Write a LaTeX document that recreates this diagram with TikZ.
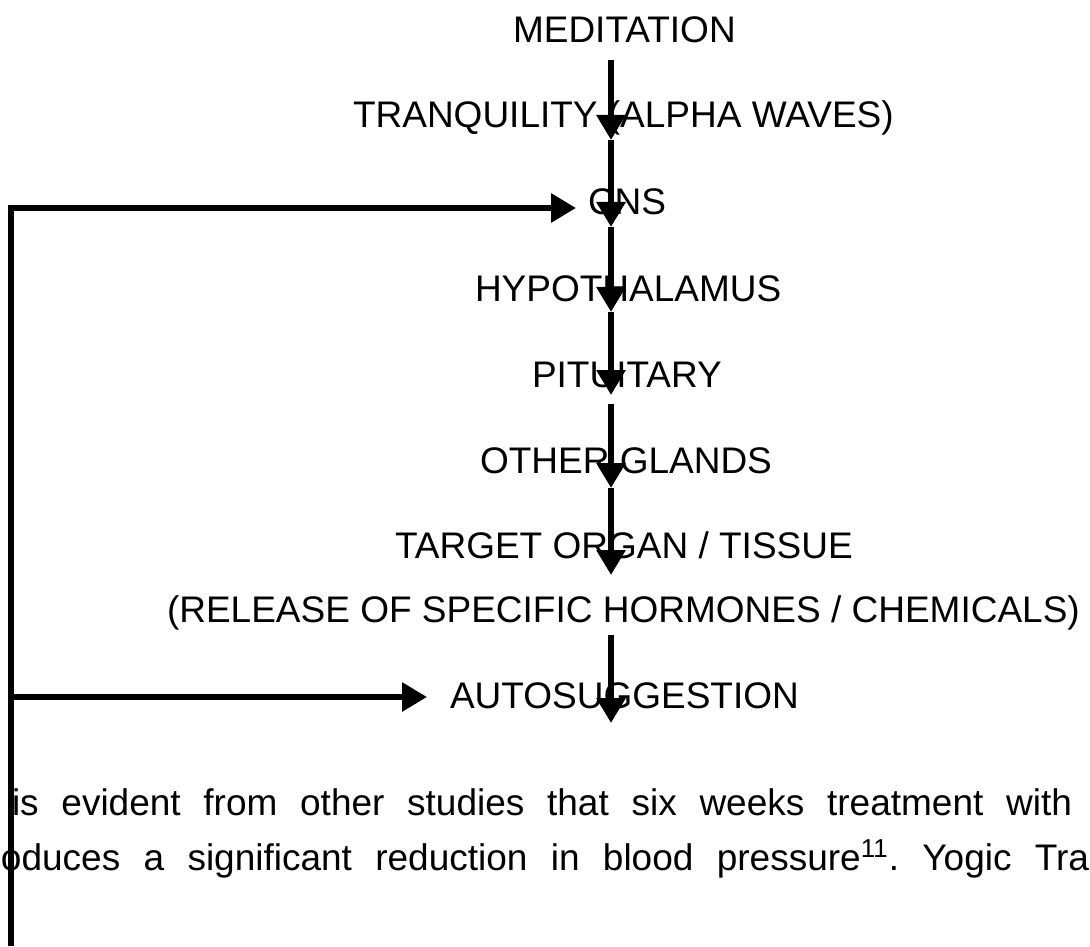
\documentclass[tikz,border=0pt]{standalone}
\usepackage{fontspec}
\setmainfont{Liberation Sans}
\usepackage{xcolor}
\usepackage{tikz}
\usetikzlibrary{arrows.meta, positioning, calc}
\definecolor{mydark}{RGB}{0,0,0}
\tikzset{
  lbl/.style={anchor=base west, inner sep=0pt, outer sep=0pt,
    font=\fontsize{18.5}{22}\selectfont, text=mydark},
  arrow/.style={-{Triangle[length=12.5pt, width=14pt]}, line width=3pt, color=mydark},
  line/.style={line width=2.8pt, color=mydark}
}

\begin{document}
\begin{tikzpicture}[x=0.5pt, y=-0.5pt]
  \useasboundingbox (0,0) rectangle (1090,946);

  % labels down the chain
  \node[lbl] (med)  at (513,43)  {MEDITATION};
  \node[lbl] (tran) at (353,128) {TRANQUILITY (ALPHA WAVES)};
  \node[lbl] (cns)  at (588,215) {CNS};
  \node[lbl] (hyp)  at (475,301) {HYPOTHALAMUS};
  \node[lbl] (pit)  at (532,387) {PITUITARY};
  \node[lbl] (oth)  at (480,473) {OTHER GLANDS};
  \node[lbl] (tgt)  at (395,558) {TARGET ORGAN / TISSUE};
  \node[lbl] (rel)  at (167,622) {(RELEASE OF SPECIFIC HORMONES / CHEMICALS)};
  \node[lbl] (auto) at (450,708) {AUTOSUGGESTION};

  % body text under the chart
  \node[lbl] (txta) at (12,815) {\hbox to 530pt{is\hfill evident\hfill from\hfill other\hfill studies\hfill that\hfill six\hfill weeks\hfill treatment\hfill with}};
  \node[lbl] (txtb) at (1,870) {\hbox to 544pt{oduces\hfill a\hfill significant\hfill reduction\hfill in\hfill blood\hfill pressure\textsuperscript{11}.\hfill Yogic\hfill Tra}};

  % points on the spine
  \foreach \n/\y in {0/60, 1/140, 2/227, 3/312, 4/395, 5/404, 6/488, 7/575, 8/635, 9/723}
    \coordinate (p\n) at (611,\y);

  \draw[arrow] (p0) -- (p1);
  \draw[arrow] (p1) -- (p2);
  \draw[arrow] (p2) -- (p3);
  \draw[arrow] (p3) -- (p4);
  \draw[arrow] (p5) -- (p6);
  \draw[arrow] (p6) -- (p7);
  \draw[arrow] (p8) -- (p9);

  % feedback loop on the left
  \coordinate (lt) at (11,208);
  \coordinate (lm) at (11,697);
  \coordinate (lb) at (11,946);
  \coordinate (cnsin) at (576,208);
  \coordinate (autoin) at (427,697);
  \draw[line] (lb) -- (lt);
  \draw[arrow] ([xshift=-1.4pt]lt) -- (cnsin);
  \draw[arrow] (lm) -- (autoin);
\end{tikzpicture}
\end{document}
